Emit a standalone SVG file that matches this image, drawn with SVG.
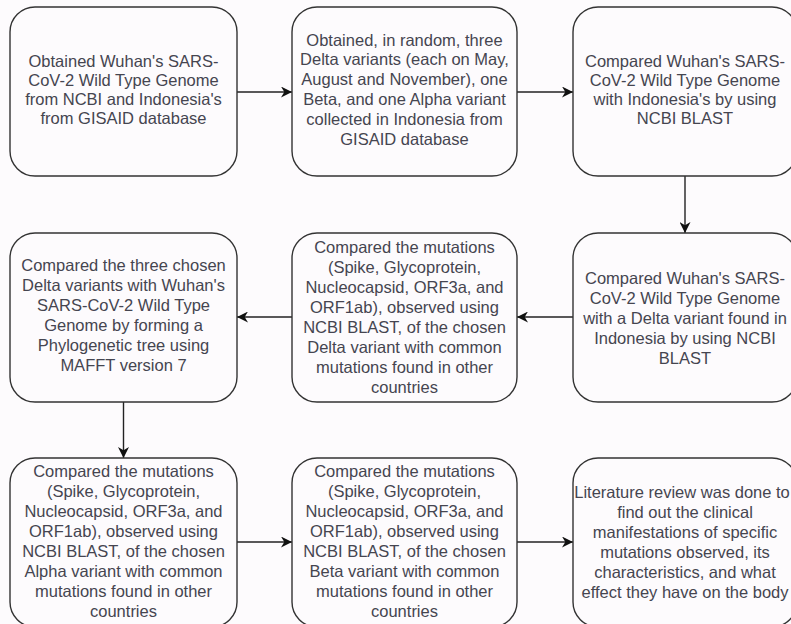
<svg xmlns="http://www.w3.org/2000/svg" width="791" height="624" viewBox="0 0 791 624">
<defs>
<style>
.box{fill:#fdfbfd;stroke:#333;stroke-width:1.4}
.lbl{font-family:"Liberation Sans",Arial,sans-serif;font-size:16.5px;fill:#454550;text-anchor:middle}
.edge{fill:none;stroke:#222;stroke-width:1.4;marker-end:url(#ah)}
</style>
<marker id="ah" markerUnits="userSpaceOnUse" markerWidth="11" markerHeight="11" refX="10" refY="5" orient="auto" viewBox="0 0 10 10">
<path d="M0,0 L10,5 L0,10 L3,5 z" fill="#111"/>
</marker>
</defs>
<rect width="791" height="624" fill="#fdfbfd"/>
<g id="connectors">
<path class="edge" d="M237 92 H292"/>
<path class="edge" d="M517 92 H573"/>
<path class="edge" d="M685 176 V233"/>
<path class="edge" d="M573 317 H517"/>
<path class="edge" d="M292 317 H237"/>
<path class="edge" d="M123.5 402 V458"/>
<path class="edge" d="M237 542 H292"/>
<path class="edge" d="M517 542 H573"/>
</g>
<g id="n1">
<rect class="box" x="10" y="7" width="227" height="169" rx="25"/>
<text class="lbl"><tspan x="123.5" y="67">Obtained Wuhan's SARS-</tspan><tspan x="123.5" y="86">CoV-2 Wild Type Genome</tspan><tspan x="123.5" y="105">from NCBI and Indonesia's</tspan><tspan x="123.5" y="124">from GISAID database</tspan></text>
</g>
<g id="n2">
<rect class="box" x="292" y="7" width="225" height="169" rx="25"/>
<text class="lbl"><tspan x="404.5" y="45.5">Obtained, in random, three</tspan><tspan x="404.5" y="65.3">Delta variants (each on May,</tspan><tspan x="404.5" y="85.1">August and November), one</tspan><tspan x="404.5" y="104.9">Beta, and one Alpha variant</tspan><tspan x="404.5" y="124.7">collected in Indonesia from</tspan><tspan x="404.5" y="144.5">GISAID database</tspan></text>
</g>
<g id="n3">
<rect class="box" x="573" y="7" width="224" height="169" rx="25"/>
<text class="lbl"><tspan x="685" y="67">Compared Wuhan's SARS-</tspan><tspan x="685" y="86">CoV-2 Wild Type Genome</tspan><tspan x="685" y="105">with Indonesia's by using</tspan><tspan x="685" y="124">NCBI BLAST</tspan></text>
</g>
<g id="n4">
<rect class="box" x="10" y="233" width="227" height="169" rx="25"/>
<text class="lbl"><tspan x="123.5" y="271">Compared the three chosen</tspan><tspan x="123.5" y="291">Delta variants with Wuhan's</tspan><tspan x="123.5" y="311">SARS-CoV-2 Wild Type</tspan><tspan x="123.5" y="331">Genome by forming a</tspan><tspan x="123.5" y="351">Phylogenetic tree using</tspan><tspan x="123.5" y="371">MAFFT version 7</tspan></text>
</g>
<g id="n5">
<rect class="box" x="292" y="233" width="225" height="169" rx="25"/>
<text class="lbl"><tspan x="404.5" y="253">Compared the mutations</tspan><tspan x="404.5" y="273">(Spike, Glycoprotein,</tspan><tspan x="404.5" y="293">Nucleocapsid, ORF3a, and</tspan><tspan x="404.5" y="313">ORF1ab), observed using</tspan><tspan x="404.5" y="333">NCBI BLAST, of the chosen</tspan><tspan x="404.5" y="353">Delta variant with common</tspan><tspan x="404.5" y="373">mutations found in other</tspan><tspan x="404.5" y="393">countries</tspan></text>
</g>
<g id="n6">
<rect class="box" x="573" y="233" width="224" height="169" rx="25"/>
<text class="lbl"><tspan x="685" y="284">Compared Wuhan's SARS-</tspan><tspan x="685" y="304">CoV-2 Wild Type Genome</tspan><tspan x="685" y="324">with a Delta variant found in</tspan><tspan x="685" y="344">Indonesia by using NCBI</tspan><tspan x="685" y="364">BLAST</tspan></text>
</g>
<g id="n7">
<rect class="box" x="10" y="458" width="227" height="169" rx="25"/>
<text class="lbl"><tspan x="123.5" y="477">Compared the mutations</tspan><tspan x="123.5" y="497">(Spike, Glycoprotein,</tspan><tspan x="123.5" y="517">Nucleocapsid, ORF3a, and</tspan><tspan x="123.5" y="537">ORF1ab), observed using</tspan><tspan x="123.5" y="557">NCBI BLAST, of the chosen</tspan><tspan x="123.5" y="577">Alpha variant with common</tspan><tspan x="123.5" y="597">mutations found in other</tspan><tspan x="123.5" y="617">countries</tspan></text>
</g>
<g id="n8">
<rect class="box" x="292" y="458" width="225" height="169" rx="25"/>
<text class="lbl"><tspan x="404.5" y="477">Compared the mutations</tspan><tspan x="404.5" y="497">(Spike, Glycoprotein,</tspan><tspan x="404.5" y="517">Nucleocapsid, ORF3a, and</tspan><tspan x="404.5" y="537">ORF1ab), observed using</tspan><tspan x="404.5" y="557">NCBI BLAST, of the chosen</tspan><tspan x="404.5" y="577">Beta variant with common</tspan><tspan x="404.5" y="597">mutations found in other</tspan><tspan x="404.5" y="617">countries</tspan></text>
</g>
<g id="n9">
<rect class="box" x="573" y="458" width="224" height="169" rx="25"/>
<text class="lbl"><tspan x="682" y="497.5">Literature review was done to</tspan><tspan x="685" y="517.5">find out the clinical</tspan><tspan x="685" y="537.5">manifestations of specific</tspan><tspan x="685" y="557.5">mutations observed, its</tspan><tspan x="685" y="577.5">characteristics, and what</tspan><tspan x="685" y="597.5">effect they have on the body</tspan></text>
</g>
</svg>
